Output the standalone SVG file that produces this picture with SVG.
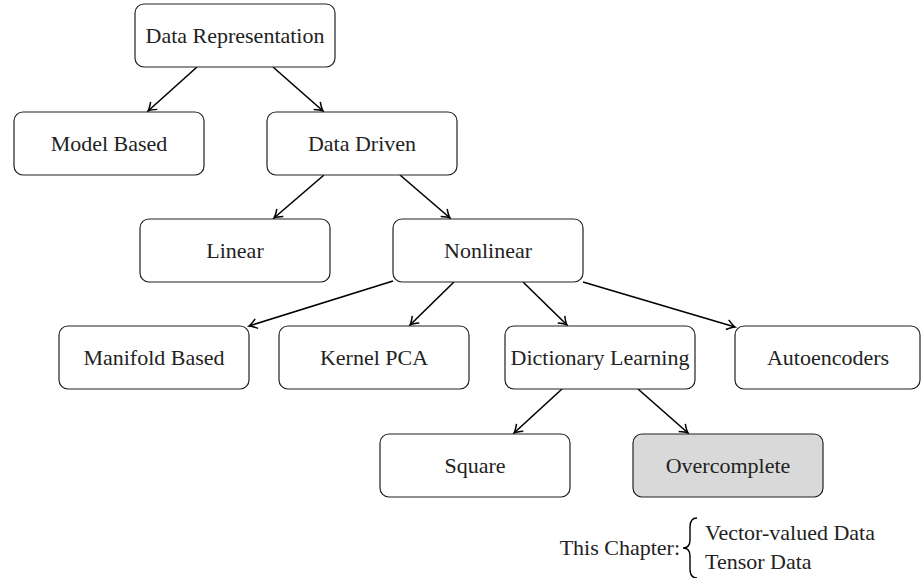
<svg xmlns="http://www.w3.org/2000/svg" width="921" height="578" viewBox="0 0 921 578">
<style>
.node rect{fill:#fff;stroke:#222;stroke-width:1.2}
.node.hl rect{fill:#d9d9d9}
text{font-family:"Liberation Serif","DejaVu Serif",serif;font-size:22px;fill:#222}
.node text{text-anchor:middle}
#edges line{stroke:#000;stroke-width:1.6;marker-end:url(#arr)}
</style>
<defs>
<marker id="arr" viewBox="-10 -6 12 12" refX="0" refY="0" markerWidth="12" markerHeight="12" markerUnits="userSpaceOnUse" orient="auto">
<path d="M-8,-5 Q-3,-1 0,0 Q-3,1 -8,5" fill="none" stroke="#000" stroke-width="1.5"/>
</marker>
</defs>
<rect width="921" height="578" fill="#fff"/>
<g id="edges">
<line x1="197" y1="67" x2="148" y2="111"/>
<line x1="273" y1="67" x2="323" y2="111"/>
<line x1="324" y1="175" x2="274" y2="218"/>
<line x1="400" y1="175" x2="450" y2="218"/>
<line x1="393" y1="281" x2="249" y2="326"/>
<line x1="454" y1="282" x2="410" y2="325"/>
<line x1="523" y1="282" x2="567" y2="325"/>
<line x1="583" y1="282" x2="735" y2="327"/>
<line x1="562" y1="389" x2="514" y2="433"/>
<line x1="638" y1="389" x2="688" y2="433"/>
</g>
<g id="n-datarep" class="node"><rect x="135" y="4" width="200" height="63" rx="9"/><text x="235" y="43">Data Representation</text></g>
<g id="n-model" class="node"><rect x="14" y="112" width="190" height="63" rx="9"/><text x="109" y="151">Model Based</text></g>
<g id="n-datadriven" class="node"><rect x="267" y="112" width="190" height="63" rx="9"/><text x="362" y="151">Data Driven</text></g>
<g id="n-linear" class="node"><rect x="140" y="219" width="190" height="63" rx="9"/><text x="235" y="258">Linear</text></g>
<g id="n-nonlinear" class="node"><rect x="393" y="219" width="190" height="63" rx="9"/><text x="488" y="258">Nonlinear</text></g>
<g id="n-manifold" class="node"><rect x="59" y="326" width="190" height="63" rx="9"/><text x="154" y="365">Manifold Based</text></g>
<g id="n-kpca" class="node"><rect x="279" y="326" width="190" height="63" rx="9"/><text x="374" y="365">Kernel PCA</text></g>
<g id="n-dict" class="node"><rect x="505" y="326" width="190" height="63" rx="9"/><text x="600" y="365">Dictionary Learning</text></g>
<g id="n-auto" class="node"><rect x="735" y="326" width="185" height="63" rx="9"/><text x="828" y="365">Autoencoders</text></g>
<g id="n-square" class="node"><rect x="380" y="434" width="190" height="63" rx="9"/><text x="475" y="473">Square</text></g>
<g id="n-over" class="node hl"><rect x="633" y="434" width="190" height="63" rx="9"/><text x="728" y="473">Overcomplete</text></g>
<g id="legend">
<text x="680" y="555" text-anchor="end">This Chapter:</text>
<path d="M697,518 Q690,518 690,527 L690,540 Q690,548 683,548 Q690,548 690,556 L690,569 Q690,578 697,578" fill="none" stroke="#000" stroke-width="1.4"/>
<text x="705" y="540">Vector-valued Data</text>
<text x="705" y="569">Tensor Data</text>
</g>
</svg>
